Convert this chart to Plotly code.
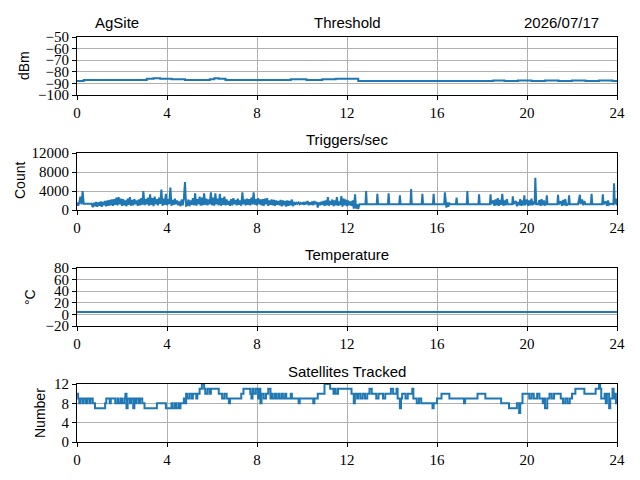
import plotly.graph_objects as go
from plotly.subplots import make_subplots

# ---- data ----
site_name = "AgSite"
day_label = "2026/07/17"
hour_ticks = [0, 4, 8, 12, 16, 20, 24]

thr_hours = [0.0, 0.3, 0.8, 1.5, 2.2, 2.8, 3.1, 3.4, 3.7, 4.2, 4.8, 5.4, 5.9, 6.1, 6.3,
             6.6, 7.2, 8.0, 8.8, 9.5, 10.2, 10.9, 11.5, 12.0, 12.4, 12.5, 13.5, 15.0,
             16.5, 18.0, 18.5, 19.0, 19.6, 20.2, 20.8, 21.4, 22.0, 22.6, 23.2, 23.8, 24.0]
thr_dbm = [-88, -87, -87, -87, -87, -87, -86, -85.5, -86, -86.5, -87, -87, -86.5, -85.5, -86,
           -87, -87, -87, -87, -86.5, -87, -86.5, -86, -86, -86, -88, -88, -88,
           -88, -88, -87.5, -88, -87.5, -88, -87.5, -88, -87.5, -88, -87.5, -88, -87.5]

# first half of the day was logged every 3 minutes (one row per hour)
trig_early_counts = [
    1600, 900, 1500, 2800, 1200, 4000, 1300, 1300, 1300, 1300, 1300, 1300, 1300, 1300, 600, 1500, 800, 1700, 700, 1600,
    900, 1800, 700, 1700, 1000, 1900, 800, 2000, 900, 2100, 1000, 2200, 900, 2300, 1100, 2600, 1000, 2700, 1200, 2400,
    900, 2300, 1000, 2000, 800, 2400, 1100, 2700, 900, 2100, 1000, 2300, 1200, 2000, 900, 2200, 1000, 2500, 1100, 4000,
    1000, 2300, 1200, 2600, 900, 3300, 1100, 2500, 800, 2800, 1200, 2300, 1000, 2600, 1300, 4300, 900, 2400, 1100, 3400,
    1000, 2300, 1200, 4700, 900, 2100, 1100, 2400, 1200, 2000, 1000, 1800, 800, 2200, 1000, 2500, 5900, 900, 1000, 2200,
    800, 2000, 1100, 2500, 1000, 3500, 900, 2300, 1200, 2800, 900, 2600, 1000, 3500, 1100, 2400, 1000, 2200, 1200, 3700,
    1000, 2600, 900, 3500, 1200, 2400, 1000, 3400, 900, 2500, 1100, 2800, 1000, 2200, 1100, 1900, 900, 2300, 1000, 2500,
    1200, 2100, 1000, 2400, 1100, 2000, 900, 3700, 1200, 2200, 1000, 2400, 1100, 2300, 1000, 2600, 1200, 3700, 1100, 2300,
    1000, 2500, 1200, 2200, 1000, 2300, 900, 2400, 1200, 2500, 900, 2000, 1100, 2200, 1000, 2100, 900, 2000, 1100, 1900,
    1000, 2100, 800, 2000, 1000, 1900, 700, 2000, 900, 1900, 1000, 2200, 800, 1700, 1100, 1500, 1300, 1600, 1200, 1500,
    1300, 1500, 1100, 1700, 1200, 1900, 1000, 1600, 1100, 1800, 1000, 1900, 1200, 1700, 500, 1600, 1000, 1700, 1100, 1900,
    900, 2000, 1000, 2700, 900, 1900, 1100, 2200, 800, 2000, 1000, 2700, 900, 1800, 1000, 2900, 700, 2400, 1000, 2200,
    800, 2000, 1000, 1800, 900, 2000,
]
trig_early_hours = [round(0.05 * i, 2) for i in range(len(trig_early_counts))]

trig_late_hours = [
    12.3, 12.36, 12.4, 12.45, 12.5, 12.55, 12.82, 12.85, 12.88, 13.32, 13.35, 13.38,
    13.82, 13.85, 13.88, 14.32, 14.35, 14.38, 14.82, 14.85, 14.88, 15.32, 15.35, 15.38,
    15.82, 15.85, 15.88, 16.32, 16.35, 16.38, 16.42, 16.46, 16.5, 16.55, 16.6, 16.84,
    16.87, 16.9, 17.32, 17.35, 17.38, 17.84, 17.87, 17.9, 18.35, 18.38, 18.41,
    18.5, 18.55, 18.6, 18.65, 18.7, 18.75, 18.8, 18.85, 18.9, 18.95, 19.0, 19.05, 19.1,
    19.15, 19.34, 19.37, 19.4, 19.5, 19.55, 19.6, 19.65, 19.7, 19.75, 19.8, 19.85, 19.88,
    19.92, 20.0, 20.05, 20.1, 20.15, 20.2, 20.25, 20.3, 20.34, 20.37, 20.41, 20.5, 20.55,
    20.6, 20.65, 20.7, 20.75, 20.8, 20.85, 20.88, 20.91, 21.35, 21.38, 21.41, 21.5,
    21.55, 21.6, 21.65, 21.7, 21.75, 21.8, 21.84, 21.87, 21.9, 22.27, 22.3, 22.35, 22.38, 22.45,
    22.5, 22.55, 22.6, 22.84, 22.87, 22.9, 23.34, 23.37, 23.4, 23.5, 23.55, 23.6, 23.65,
    23.7, 23.84, 23.87, 23.9, 23.95, 24.0,
]
trig_late_counts = [
    300, 3300, 300, 1200, 200, 1200, 1200, 4000, 1200, 1200, 3400, 1200,
    1200, 3500, 1200, 1200, 3100, 1200, 1200, 4400, 1200, 1200, 3400, 1200,
    1200, 3400, 1200, 1200, 3700, 1200, 500, 1600, 700, 1400, 1200, 1200,
    2600, 1200, 1200, 4000, 1200, 1200, 3300, 1200, 1200, 3300, 1200,
    2000, 900, 2200, 1000, 2500, 900, 2100, 1100, 3400, 900, 2000, 1000, 2300,
    1200, 1200, 2900, 1200, 1900, 800, 1700, 1000, 2300, 900, 2000, 1000, 3100,
    1000, 2200, 900, 2000, 1000, 2400, 1000, 1800, 1200, 6800, 1200, 1200, 2100,
    900, 2300, 1000, 2000, 1100, 1200, 3100, 1200, 1200, 3200, 1200, 1800,
    900, 2100, 1000, 2300, 900, 1200, 1200, 3100, 1200, 1200, 2000, 3200, 1200, 2200,
    1000, 1900, 1200, 1200, 3400, 1200, 1200, 3300, 1200, 1800, 900, 2000, 1100,
    1300, 1200, 5600, 1200, 2400, 1000,
]

temp_hours = [0, 6, 12, 18, 24]
temp_c = [4.0, 3.9, 4.1, 4.0, 4.0]

sat_hours = [
    0.0, 0.05, 0.1, 0.15, 0.25, 0.3, 0.4, 0.45, 0.55, 0.6, 0.7, 0.8, 1.25, 1.3, 1.45, 1.5,
    1.7, 1.8, 1.85, 1.95, 2.0, 2.1, 2.15, 2.2, 2.25, 2.35, 2.4, 2.5, 2.55, 2.6, 2.65, 2.75,
    2.8, 2.9, 3.0, 3.55, 3.95, 4.2, 4.25, 4.35, 4.4, 4.5, 4.55, 4.6, 4.75, 4.8, 4.85, 4.9,
    5.0, 5.1, 5.15, 5.3, 5.35, 5.45, 5.55, 5.65, 5.7, 5.8, 5.9, 5.95, 6.3, 6.45, 6.55, 6.65,
    6.75, 6.8, 7.3, 7.4, 7.7, 7.75, 7.8, 7.85, 7.95, 8.05, 8.1, 8.15, 8.2, 8.3, 8.4, 8.5,
    8.6, 8.65, 8.7, 8.8, 8.85, 8.95, 9.0, 9.1, 9.15, 9.25, 9.3, 9.5, 9.55, 9.85, 9.9, 10.5,
    10.55, 10.7, 11.0, 11.25, 11.4, 11.45, 11.5, 11.6, 12.2, 12.3, 12.35, 12.45, 12.5, 12.6,
    12.7, 12.8, 12.9, 13.0, 13.1, 13.3, 13.4, 13.6, 13.7, 13.95, 14.05, 14.2, 14.25, 14.35,
    14.4, 14.45, 14.6, 14.7, 14.9, 14.95, 15.1, 15.2, 15.3, 15.8, 15.85, 16.0, 16.2, 16.55,
    17.2, 17.25, 17.8, 18.15, 18.85, 19.2, 19.55, 19.65, 19.7, 19.8, 20.1, 20.2, 20.3, 20.45,
    20.55, 20.7, 20.75, 20.8, 20.9, 21.0, 21.1, 21.2, 21.5, 21.6, 21.7, 21.8, 21.9, 22.0,
    22.15, 22.55, 23.05, 23.2, 23.25, 23.3, 23.45, 23.5, 23.55, 23.65, 23.7, 23.8, 23.85,
    23.9, 23.95, 24.0,
]
sat_count = [
    10, 9, 8, 9, 8, 9, 8, 9, 8, 9, 8, 7, 8, 9, 8, 9,
    8, 9, 8, 9, 8, 9, 10, 7, 9, 8, 9, 7, 9, 8, 9, 8,
    9, 8, 7, 8, 7, 8, 7, 8, 7, 8, 7, 8, 9, 8, 10, 9,
    10, 9, 10, 9, 10, 11, 12, 11, 10, 11, 10, 11, 10, 9, 10, 9,
    8, 9, 10, 11, 10, 9, 11, 10, 11, 9, 11, 8, 10, 9, 10, 11,
    9, 10, 9, 10, 9, 10, 9, 10, 9, 10, 9, 10, 9, 8, 9, 8,
    9, 10, 12, 11, 10, 11, 10, 11, 10, 8, 10, 9, 10, 9,
    10, 9, 10, 11, 10, 9, 10, 9, 10, 11, 10, 11, 9, 7,
    9, 10, 9, 10, 11, 9, 8, 9, 8, 7, 8, 9, 10, 9,
    8, 9, 10, 9, 8, 7, 8, 6, 8, 10, 9, 10, 9, 10,
    9, 8, 9, 7, 9, 10, 9, 10, 9, 8, 9, 8, 9, 10,
    11, 10, 11, 12, 11, 9, 10, 8, 10, 7, 9, 11, 9,
    10, 8, 9,
]

BLUE = "#1f77b4"
GRID = "#b0b0b0"
SERIF = "Liberation Serif, Times New Roman, DejaVu Serif, serif"
SANS = "Liberation Sans, Arial, sans-serif"
TICK_FONT = dict(family=SERIF, size=15, color="black")
TEXT_FONT = dict(family=SANS, size=15, color="black")
LABEL_FONT = dict(family=SANS, size=14, color="black")

# the page puts the figure 8 px in from the window corner, so work in window pixels
OFF = 8
W, H = 640 - OFF, 480 - OFF


def px_x(x):
    return (x - OFF) / W


def px_y(y):
    return 1 - (y - OFF) / H


fig = make_subplots(rows=4, cols=1)

line = dict(color=BLUE, width=2)
fig.add_trace(go.Scatter(x=thr_hours, y=thr_dbm, mode="lines", line_shape="hv", line=line), row=1, col=1)
fig.add_trace(go.Scatter(x=trig_early_hours + trig_late_hours, y=trig_early_counts + trig_late_counts,
                         mode="lines", line=line), row=2, col=1)
fig.add_trace(go.Scatter(x=temp_hours, y=temp_c, mode="lines", line=line), row=3, col=1)
fig.add_trace(go.Scatter(x=sat_hours, y=sat_count, mode="lines", line_shape="hv", line=line), row=4, col=1)

# top/bottom pixel rows of each frame in the window
panel_px = [(37, 95), (153, 210), (268, 326), (384, 442)]
y_ranges = [[-100, -50], [0, 12000], [-20, 80], [0, 12]]
y_ticks = [list(range(-100, -49, 10)), [0, 4000, 8000, 12000], list(range(-20, 81, 20)), [0, 4, 8, 12]]

axis_style = dict(
    showline=True, mirror=True, linecolor="black", linewidth=1,
    ticks="outside", ticklen=4, tickwidth=1, tickcolor="black",
    showgrid=True, gridcolor=GRID, gridwidth=1, zeroline=False,
    tickfont=TICK_FONT, automargin=False,
)

for i, (top, bot) in enumerate(panel_px):
    n = "" if i == 0 else str(i + 1)
    fig.layout["xaxis" + n].update(
        domain=[px_x(77), px_x(617)], range=[0, 24], tickvals=hour_ticks, **axis_style
    )
    fig.layout["yaxis" + n].update(
        domain=[px_y(bot), px_y(top)], range=y_ranges[i], tickvals=y_ticks[i],
        tickformat="d", **axis_style
    )

mid = (77 + 617) / 2
annots = [
    dict(text=site_name, x=px_x(93), y=px_y(22), xanchor="left", font=TEXT_FONT),
    dict(text="Threshold", x=px_x(mid), y=px_y(22), font=TEXT_FONT),
    dict(text=day_label, x=px_x(601), y=px_y(22), xanchor="right", font=TEXT_FONT),
    dict(text="Triggers/sec", x=px_x(mid), y=px_y(139), font=TEXT_FONT),
    dict(text="Temperature", x=px_x(mid), y=px_y(254), font=TEXT_FONT),
    dict(text="Satellites Tracked", x=px_x(mid), y=px_y(371), font=TEXT_FONT),
    dict(text="dBm", x=px_x(24), y=px_y(66), textangle=-90, font=LABEL_FONT),
    dict(text="Count", x=px_x(20), y=px_y(181), textangle=-90, font=LABEL_FONT),
    dict(text="°C", x=px_x(30), y=px_y(297), textangle=-90, font=LABEL_FONT),
    dict(text="Number", x=px_x(40), y=px_y(413), textangle=-90, font=LABEL_FONT),
]
for a in annots:
    a.setdefault("xanchor", "center")
    fig.add_annotation(xref="paper", yref="paper", yanchor="middle", showarrow=False, **a)

fig.update_layout(
    width=W, height=H,
    margin=dict(l=0, r=0, t=0, b=0),
    font=dict(family=SERIF, color="black"),
    paper_bgcolor="white", plot_bgcolor="white",
    showlegend=False,
)

fig.write_html("out.html", config={"displayModeBar": False})
